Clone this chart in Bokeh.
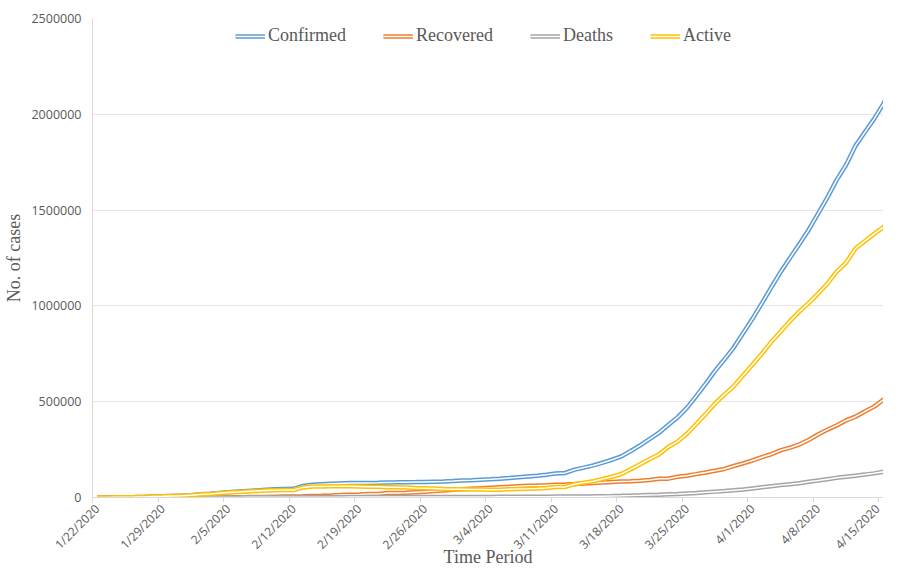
import pandas as pd
from bokeh.plotting import figure
from bokeh.models import (Range1d, FixedTicker, Legend, LegendItem, ColumnDataSource)
from bokeh.embed import file_html
from bokeh.resources import INLINE

# ---------------- data ----------------
dates = [d.strftime("%-m/%-d/%Y") for d in pd.date_range("2020-01-22", "2020-04-17")]

confirmed = [555, 654, 941, 1434, 2118, 2927, 5578, 6166, 8234, 9927,
             12038, 16787, 19887, 23898, 27643, 30802, 34395, 37129, 40160, 42769,
             44811, 45229, 60381, 66909, 69052, 71235, 73270, 75152, 75652, 76212,
             76841, 78602, 78982, 79546, 80399, 81376, 82738, 84124, 86013, 88371,
             90309, 92844, 95124, 97886, 101801, 105847, 109821, 113590, 118620, 125875,
             128352, 145205, 156101, 167454, 181574, 197102, 214821, 242570, 272208, 304507,
             336953, 378235, 418045, 467653, 529591, 593291, 660706, 720117, 782365, 857487,
             932605, 1013466, 1095917, 1176060, 1249754, 1321481, 1396476, 1480202, 1565278, 1657526,
             1735650, 1835147, 1905935, 1976191, 2056054, 2152437, 2240190]

recovered = [28, 30, 36, 39, 52, 61, 107, 126, 143, 222,
             284, 472, 623, 852, 1124, 1487, 2011, 2616, 3244, 3946,
             4683, 5150, 6295, 8058, 9395, 10865, 12583, 14352, 16121, 18177,
             18890, 22886, 23394, 25227, 27905, 30384, 33277, 36711, 39782, 42716,
             45602, 48228, 51171, 53797, 55866, 58359, 60694, 62494, 64404, 67003,
             68324, 70251, 72624, 76034, 78088, 80840, 83312, 84975, 87420, 91692,
             97899, 98351, 107890, 113604, 122150, 130915, 139415, 149082, 164566, 178034,
             193177, 210263, 225796, 246152, 260012, 276515, 300054, 328661, 353975, 376096,
             402110, 421722, 448655, 474261, 511019, 542107, 568343]

deaths = [17, 18, 26, 42, 56, 82, 131, 133, 171, 213,
          259, 362, 426, 492, 564, 634, 719, 806, 906, 1013,
          1113, 1118, 1371, 1523, 1666, 1770, 1868, 2007, 2122, 2247,
          2251, 2458, 2469, 2629, 2708, 2770, 2814, 2872, 2941, 2996,
          3085, 3160, 3254, 3348, 3460, 3558, 3802, 3988, 4262, 4615,
          4720, 5404, 5819, 6440, 7126, 7905, 8733, 9867, 11299, 12973,
          14623, 16497, 18615, 21181, 23970, 27198, 30652, 33925, 37582, 42107,
          46809, 52983, 58787, 64606, 69374, 74565, 81865, 88338, 95455, 102525,
          108503, 114091, 119482, 125984, 134177, 143800, 153821]

active = [510, 606, 879, 1353, 2010, 2784, 5340, 5907, 7920, 9492,
          11495, 15953, 18838, 22554, 25955, 28681, 31665, 33707, 36010, 37810,
          39015, 38961, 52715, 57328, 57991, 58600, 58819, 58793, 57409, 55788,
          55700, 53258, 53119, 51690, 49786, 48222, 46647, 44541, 43290, 42659,
          41622, 41456, 40699, 40741, 42475, 43930, 45325, 47108, 49954, 54257,
          55308, 69550, 77658, 84980, 96360, 108357, 122776, 147728, 173489, 199842,
          224431, 263387, 291540, 332868, 383471, 435178, 490639, 537110, 580217, 637346,
          692619, 750220, 811334, 865302, 920368, 970401, 1014557, 1063203, 1115848, 1178905,
          1225037, 1299334, 1337798, 1375946, 1410858, 1466530, 1518026]

series_names = ["Confirmed", "Recovered", "Deaths", "Active"]
series_colors = ["#5B9BD5", "#ED7D31", "#A5A5A5", "#FFC000"]

tick_labels = ["1/22/2020", "1/29/2020", "2/5/2020", "2/12/2020", "2/19/2020",
               "2/26/2020", "3/4/2020", "3/11/2020", "3/18/2020", "3/25/2020",
               "4/1/2020", "4/8/2020", "4/15/2020"]
y_ticks = [0, 500000, 1000000, 1500000, 2000000, 2500000]

# ---------------- figure ----------------
x_idx = list(range(len(dates)))
src = ColumnDataSource(dict(x=x_idx, date=dates, Confirmed=confirmed,
                            Recovered=recovered, Deaths=deaths, Active=active))

p = figure(width=883, height=569, output_backend="svg", toolbar_location=None,
           x_range=Range1d(-0.5, 84.0), y_range=Range1d(0, 2500000),
           min_border_left=92, min_border_right=0, min_border_top=18,
           min_border_bottom=10)
p.background_fill_color = "white"
p.border_fill_color = "white"
p.outline_line_color = None

label_font = "Open Sans"
serif = "Liberation Serif"
gray_text = "#595959"

# y axis
p.yaxis.ticker = FixedTicker(ticks=y_ticks)
p.yaxis.major_label_overrides = {t: str(t) for t in y_ticks}
p.yaxis.major_tick_out = 0
p.yaxis.major_tick_in = 0
p.yaxis.minor_tick_out = 0
p.yaxis.minor_tick_in = 0
p.yaxis.axis_line_color = "#D9D9D9"
p.yaxis.major_label_text_font = label_font
p.yaxis.major_label_text_font_size = "12.5px"
p.yaxis.major_label_text_color = gray_text
p.yaxis.major_label_standoff = 11
p.yaxis.axis_label = "No. of cases"
p.yaxis.axis_label_text_font = serif
p.yaxis.axis_label_text_font_size = "18px"
p.yaxis.axis_label_text_font_style = "normal"
p.yaxis.axis_label_text_color = gray_text
p.yaxis.axis_label_standoff = 4

# x axis
major_pos = [dates.index(lbl) for lbl in tick_labels]
p.xaxis.ticker = FixedTicker(ticks=major_pos, minor_ticks=[m - 0.5 for m in major_pos])
p.xaxis.major_label_overrides = {pos: lbl for pos, lbl in zip(major_pos, tick_labels)}
p.xaxis.major_label_orientation = 0.785398
p.xaxis.major_tick_out = 0
p.xaxis.major_tick_in = 0
p.xaxis.minor_tick_out = 5
p.xaxis.minor_tick_in = 0
p.xaxis.minor_tick_line_color = "#D9D9D9"
p.xaxis.axis_line_color = "#D9D9D9"
p.xaxis.major_label_text_font = label_font
p.xaxis.major_label_text_font_size = "12px"
p.xaxis.major_label_text_color = gray_text
p.xaxis.major_label_standoff = 4
p.xaxis.axis_label = "Time Period"
p.xaxis.axis_label_text_font = serif
p.xaxis.axis_label_text_font_size = "18px"
p.xaxis.axis_label_text_font_style = "normal"
p.xaxis.axis_label_text_color = gray_text
p.xaxis.axis_label_standoff = -15

p.xgrid.grid_line_color = None
p.ygrid.ticker = FixedTicker(ticks=y_ticks)
p.ygrid.grid_line_color = "#E6E6E6"
p.ygrid.grid_line_width = 1

# lines (double-line style: coloured stroke with white core)
items = []
for name, col in zip(series_names, series_colors):
    r1 = p.line("x", name, source=src, line_color=col, line_width=4.5)
    r2 = p.line("x", name, source=src, line_color="white", line_width=1.5)
    items.append(LegendItem(label=name, renderers=[r1, r2]))

legend = Legend(items=items, orientation="horizontal", location=(143, 451),
                border_line_color=None, background_fill_alpha=0,
                label_text_font=serif, label_text_font_size="18px",
                label_text_color=gray_text, glyph_width=30, glyph_height=20,
                label_standoff=3, spacing=37, padding=5, margin=0)
p.add_layout(legend)

open("out.html", "w").write(file_html(p, INLINE))
